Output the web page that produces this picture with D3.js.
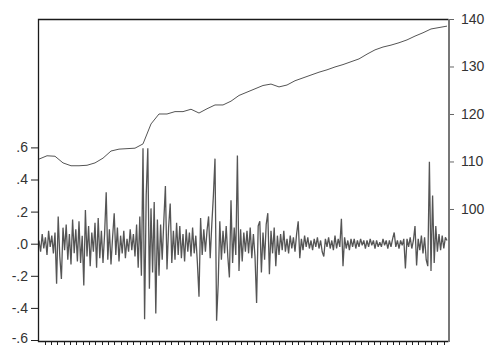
<!DOCTYPE html>
<html>
<head>
<meta charset="utf-8">
<script src="https://cdn.jsdelivr.net/npm/d3@7"></script>
<style>
	body { margin: 0; background: #fff; }
	svg { display: block; font-family: "Liberation Sans", Arial, sans-serif; }
</style>
</head>
<body>
<svg id="chart" width="488" height="346"></svg>
<script>
// residuals, one per observation (left scale)
let residuals = [
	0.02, -0.05, 0.06, -0.03, 0.04, -0.07, 0.08, -0.02, 0.05, -0.06,
	0.07, -0.25, 0.17, -0.08, -0.22, 0.1, -0.04, 0.12, -0.1, 0.06,
	-0.13, 0.15, -0.06, 0.09, -0.11, 0.14, -0.12, 0.05, -0.26, 0.21,
	-0.08, 0.11, -0.14, 0.07, -0.05, 0.13, -0.15, 0.16, -0.09, 0.08,
	-0.12, 0.06, 0.32, -0.1, 0.09, -0.13, 0.04, 0.19, -0.07, 0.1,
	-0.11, 0.05, -0.06, 0.08, -0.09, 0.03, -0.05, 0.09, -0.04, 0.06,
	-0.08, 0.12, -0.15, 0.17, -0.2, 0.595, -0.47, 0.3, 0.595, -0.28,
	0.22, -0.18, 0.26, -0.435, 0.15, -0.2, 0.12, -0.1, 0.14, 0.36,
	-0.16, 0.1, 0.25, -0.12, 0.08, -0.1, 0.13, -0.07, 0.11, -0.09,
	0.06, -0.11, 0.09, -0.05, 0.07, -0.08, 0.1, -0.06, 0.05, -0.12,
	-0.33, 0.16, -0.07, 0.09, -0.05, 0.08, 0.17, -0.09, 0.12, 0.3,
	0.53, -0.48, -0.25, 0.14, -0.1, 0.08, -0.06, 0.11, -0.08, -0.21,
	0.27, -0.12, 0.1, -0.07, 0.55, -0.17, 0.09, -0.11, 0.07, -0.05,
	0.08, -0.06, 0.1, -0.09, 0.06, -0.08, -0.37, 0.11, 0.14, -0.18,
	0.07, -0.1, 0.12, 0.19, -0.19, 0.08, -0.06, 0.1, -0.14, 0.05,
	-0.07, 0.06, -0.04, 0.08, -0.05, 0.03, -0.06, 0.05, -0.03, 0.04,
	-0.05, 0.06, 0.14, -0.09, 0.03, -0.04, 0.05, -0.02, 0.04, -0.03,
	0.02, -0.04, 0.03, -0.02, 0.04, -0.03, 0.02, -0.05, -0.08, 0.03,
	-0.02, 0.04, -0.03, 0.02, -0.04, 0.05, -0.03, 0.03, -0.02, 0.155,
	-0.14, 0.04, -0.03, 0.02, -0.04, 0.03, -0.02, 0.03, -0.03, 0.02,
	-0.02, 0.03, -0.01, 0.02, -0.03, 0.02, -0.02, 0.03, -0.01, 0.02,
	-0.03, 0.02, -0.02, 0.01, -0.02, 0.03, -0.01, 0.02, -0.03, 0.02,
	-0.02, 0.03, 0.07, -0.02, 0.02, -0.03, 0.02, -0.01, 0.03, -0.155,
	0.03, -0.02, 0.04, -0.03, 0.02, 0.11, -0.135, 0.03, -0.04, 0.05,
	-0.06, 0.04, -0.1, -0.14, 0.51, -0.17, 0.3, -0.12, 0.11, -0.05,
	0.06, -0.04, 0.05, -0.03, 0.04, 0.02
];

// actual series, every 5th observation (right scale)
let actualStep = 5;
let actual = [
	110.5, 111.2, 111.1, 109.7, 109.1, 109.1, 109.2, 109.7, 110.7, 112.2,
	112.6, 112.7, 112.8, 113.7, 117.9, 120.0, 120.0, 120.5, 120.5, 121.0,
	120.2, 121.1, 121.9, 121.9, 122.7, 123.9, 124.6, 125.3, 126.0, 126.3,
	125.7, 126.1, 127.0, 127.6, 128.2, 128.8, 129.3, 129.9, 130.4, 131.0,
	131.6, 132.6, 133.5, 134.1, 134.5, 135.0, 135.6, 136.4, 137.1, 137.9,
	138.2, 138.5
];

let leftTicks = [0.6, 0.4, 0.2, 0.0, -0.2, -0.4, -0.6];
let rightTicks = [140, 130, 120, 110, 100];
let bottomTickCount = 64;

let plot = {left: 38, top: 19, right: 448, bottom: 341};
let svg = d3.select("#chart");

let x = d3.scaleLinear()
	.domain([0, residuals.length - 1])
	.range([plot.left + 1, plot.right - 1]);
let yLeft = d3.scaleLinear()
	.domain([-0.6, 1.4])
	.range([plot.bottom - 1, plot.top]);
let yRight = d3.scaleLinear()
	.domain([72.2, 140])
	.range([plot.bottom, plot.top]);

// series
svg.append("path")
	.datum(residuals)
	.attr("fill", "none")
	.attr("stroke", "#555")
	.attr("stroke-width", 1.3)
	.attr("stroke-linejoin", "bevel")
	.attr("d", d3.line().x((d, i) => x(i)).y(d => yLeft(d)));

svg.append("path")
	.datum(actual)
	.attr("fill", "none")
	.attr("stroke", "#555")
	.attr("stroke-width", 1)
	.attr("d", d3.line().x((d, i) => x(i * actualStep)).y(d => yRight(d)));

// left axis
let fmt = v => {
	let s = d3.format(".1f")(Math.abs(v)).replace(/^0/, "");
	return (v < 0 ? "-" : "") + s;
};
let gLeft = svg.append("g")
	.attr("transform", "translate(" + plot.left + ",0)")
	.call(d3.axisLeft(yLeft).tickValues(leftTicks).tickFormat(fmt).tickSize(7).tickPadding(3).tickSizeOuter(0));
gLeft.select(".domain").remove();
gLeft.selectAll("line").attr("stroke", "#222");
gLeft.selectAll("text").attr("fill", "#333").attr("font-size", 14).attr("font-family", null);
gLeft.selectAll("text").filter(d => d === -0.6).attr("dy", "0.2em");

// right axis
let gRight = svg.append("g")
	.attr("transform", "translate(" + (plot.right + 1) + ",0)")
	.call(d3.axisRight(yRight).tickValues(rightTicks).tickSize(5).tickPadding(7).tickSizeOuter(0));
gRight.select(".domain").remove();
gRight.selectAll("line").attr("stroke", "#666");
gRight.selectAll("text").attr("fill", "#333").attr("font-size", 14).attr("font-family", null);

// bottom ticks, no labels
let xTicks = d3.scaleLinear().domain([0, bottomTickCount - 1]).range([44.7, 443.7]);
svg.append("g")
	.selectAll("line")
	.data(d3.range(bottomTickCount))
	.enter().append("line")
	.attr("x1", d => Math.round(xTicks(d)) + 0.5)
	.attr("x2", d => Math.round(xTicks(d)) + 0.5)
	.attr("y1", plot.bottom)
	.attr("y2", plot.bottom + 4)
	.attr("stroke", "#222");

// frame
svg.append("path")
	.attr("d", "M" + (plot.right + 0.5) + "," + (plot.top + 0.5) + "H" + (plot.left + 0.5) + "V" + (plot.bottom + 0.5) + "H" + (plot.right + 0.5))
	.attr("fill", "none")
	.attr("stroke", "#1a1a1a")
	.attr("stroke-width", 1.3);
svg.append("line")
	.attr("x1", plot.right + 1).attr("x2", plot.right + 1)
	.attr("y1", plot.top).attr("y2", plot.bottom + 1)
	.attr("stroke", "#777")
	.attr("stroke-width", 2);
</script>
</body>
</html>
